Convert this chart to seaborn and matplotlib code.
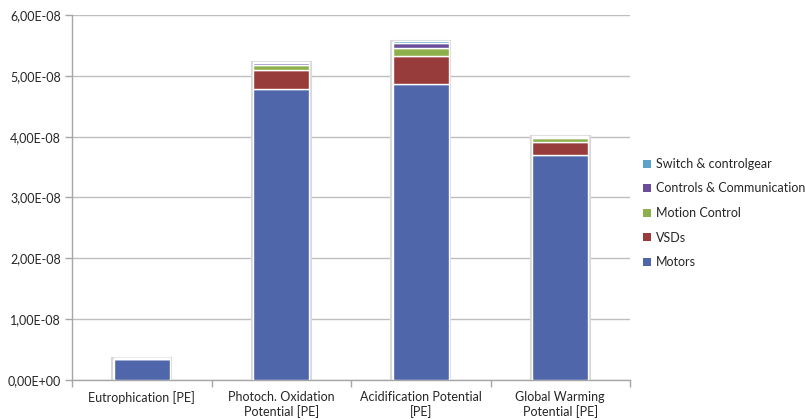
import numpy as np
import pandas as pd
import matplotlib
matplotlib.use("Agg")
import matplotlib.pyplot as plt
import seaborn as sns
from matplotlib.patches import Patch
from matplotlib.ticker import FuncFormatter, MultipleLocator

categories = ["Eutrophication [PE]", "Photoch. Oxidation\nPotential [PE]",
              "Acidification Potential\n[PE]", "Global Warming\nPotential [PE]"]
series_names = ["Motors", "VSDs", "Motion Control", "Controls & Communication", "Switch & controlgear"]
motors = [0.34e-8, 4.78e-8, 4.87e-8, 3.70e-8]
vsds = [0.01e-8, 0.32e-8, 0.46e-8, 0.21e-8]
motion_control = [0.004e-8, 0.08e-8, 0.13e-8, 0.06e-8]
controls_comm = [0.002e-8, 0.03e-8, 0.08e-8, 0.03e-8]
switch_gear = [0.001e-8, 0.01e-8, 0.04e-8, 0.01e-8]
colors = ["#5066AA", "#983C3B", "#8DB04C", "#6A4E9C", "#5BA3C8"]

sns.set_theme(style="white")
plt.rcParams["font.family"] = ["Lato", "DejaVu Sans"]

fig = plt.figure(figsize=(8.05, 4.2), dpi=100)
ax = fig.add_axes([72/805, 1-380/420, (630-72)/805, (380-15)/420])

all_series = [motors, vsds, motion_control, controls_comm, switch_gear]
totals = np.sum(np.array(all_series), axis=0)
# light grey outline around each full stack (Excel-like shadow frame)
df_tot = pd.DataFrame({"cat": categories, "val": totals})
sns.barplot(data=df_tot, x="cat", y="val", color="white", width=0.42,
            edgecolor="#D9D9D9", linewidth=1.5, saturation=1, ax=ax, zorder=2)

bottom = np.zeros(len(categories))
for name, vals, col in zip(series_names, all_series, colors):
    df = pd.DataFrame({"cat": categories, "val": vals})
    sns.barplot(data=df, x="cat", y="val", bottom=bottom, color=col, width=0.4,
                edgecolor="white", linewidth=1.0, saturation=1, ax=ax, zorder=3)
    bottom = bottom + np.array(vals)

ax.set_ylim(0, 6e-8)
ax.set_xlim(-0.5, len(categories) - 0.5)
ax.yaxis.set_major_locator(MultipleLocator(1e-8))
ax.yaxis.set_major_formatter(FuncFormatter(lambda v, p: f"{v:.2E}".replace(".", ",")))
ax.grid(axis="y", color="#BEBEBE", linewidth=1.0, zorder=0)
ax.set_axisbelow(True)
for s in ["top", "right"]:
    ax.spines[s].set_visible(False)
for s in ["left", "bottom"]:
    ax.spines[s].set_color("#A6A6A6")
    ax.spines[s].set_linewidth(1.0)
ax.set_xlabel("")
ax.set_ylabel("")
ax.tick_params(axis="y", length=5, width=1, color="#A6A6A6", labelsize=9, labelcolor="#262626", pad=3, left=True)
ax.tick_params(axis="x", which="major", length=0, labelsize=9, labelcolor="#262626", pad=8)
ax.set_xticks(np.arange(-0.5, len(categories)), minor=True)
ax.tick_params(axis="x", which="minor", length=5, width=1, color="#A6A6A6", bottom=True)

handles = [Patch(facecolor=c, edgecolor="none", label=n) for n, c in zip(series_names, colors)][::-1]
fig.legend(handles=handles, loc="upper left", bbox_to_anchor=(638/805, 1-153/420),
           frameon=False, fontsize=9, handlelength=0.6, handleheight=0.6,
           handletextpad=0.4, labelspacing=1.0, borderaxespad=0)

fig.savefig("out.png", dpi=100)
